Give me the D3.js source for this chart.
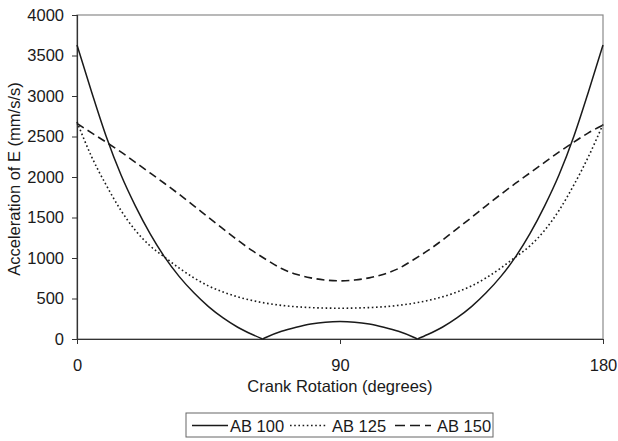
<!DOCTYPE html>
<html>
<head>
<meta charset="utf-8">
<script src="https://cdn.jsdelivr.net/npm/d3@7"></script>
<style>
  html, body { margin: 0; padding: 0; background: #fff; }
  svg { display: block; font-family: "Liberation Sans", Arial, Helvetica, sans-serif; }
</style>
</head>
<body>
<svg id="chart" width="618" height="441"></svg>
<script>
// Crank angle (degrees) for the AB 125 and AB 150 series
const angles = [0, 5, 10, 15, 20, 25, 30, 35, 40, 45, 50, 55, 60, 65, 70, 75, 80, 85, 90,
                95, 100, 105, 110, 115, 120, 125, 130, 135, 140, 145, 150, 155, 160, 165, 170, 175, 180];

// AB 100 is sampled at the same angles plus the two points where the acceleration vanishes
const angles100 = [0, 5, 10, 15, 20, 25, 30, 35, 40, 45, 50, 55, 60, 63.5, 65, 70, 75, 80, 85, 90,
                   95, 100, 105, 110, 115, 116.5, 120, 125, 130, 135, 140, 145, 150, 155, 160, 165, 170, 175, 180];
const ab100 = [3630, 3050, 2500, 2030, 1640, 1300, 1010, 770, 570, 400, 260, 145, 55, 0, 25, 95, 145, 185, 208, 215,
               208, 185, 145, 95, 25, 0, 55, 145, 260, 400, 570, 770, 1010, 1300, 1640, 2030, 2500, 3050, 3630];

const ab125 = [2680, 2250, 1900, 1590, 1340, 1150, 1010, 875, 755, 655, 580, 520, 475, 440, 415, 398, 388, 382, 380,
               382, 388, 398, 415, 440, 475, 520, 580, 655, 755, 875, 1010, 1150, 1340, 1590, 1900, 2250, 2650];

const ab150 = [2660, 2545, 2430, 2310, 2180, 2050, 1920, 1785, 1645, 1500, 1360, 1220, 1090, 975, 870, 800, 755, 728, 718,
               728, 755, 800, 870, 975, 1090, 1220, 1360, 1500, 1645, 1785, 1920, 2050, 2180, 2310, 2430, 2545, 2640];

const seriesNames = ["AB 100", "AB 125", "AB 150"];
const xTicks = [0, 90, 180];
const yTicks = [0, 500, 1000, 1500, 2000, 2500, 3000, 3500, 4000];

const svg = d3.select("#chart");
const plotL = 77, plotR = 603, plotT = 15, plotB = 339;
const ink = "#1a1a1a";

const x = d3.scaleLinear().domain([0, 180]).range([plotL, plotR]);
const y = d3.scaleLinear().domain([0, 4000]).range([plotB, plotT]);

// plot frame
svg.append("rect")
  .attr("x", plotL).attr("y", plotT)
  .attr("width", plotR - plotL).attr("height", plotB - plotT)
  .attr("fill", "none").attr("stroke", "#8a8a8a").attr("stroke-width", 1.2);

// axes
const yAxis = svg.append("g")
  .attr("transform", `translate(${plotL},0)`)
  .call(d3.axisLeft(y).tickValues(yTicks).tickSize(5).tickPadding(8).tickFormat(d3.format("d")));
const xAxis = svg.append("g")
  .attr("transform", `translate(0,${plotB})`)
  .call(d3.axisBottom(x).tickValues(xTicks).tickSize(5).tickPadding(15).tickSizeOuter(0));

[yAxis, xAxis].forEach(g => {
  g.select(".domain").attr("stroke", "#333").attr("stroke-width", 1.2);
  g.selectAll(".tick line").attr("stroke", "#333");
  g.selectAll(".tick text").attr("fill", ink).attr("font-size", 16.5)
    .attr("font-family", "Liberation Sans, Arial, sans-serif");
});

// axis titles
svg.append("text")
  .attr("x", (plotL + plotR) / 2).attr("y", 392)
  .attr("text-anchor", "middle").attr("font-size", 16.5).attr("fill", ink)
  .text("Crank Rotation (degrees)");
svg.append("text")
  .attr("transform", `translate(20,${(plotT + plotB) / 2 + 2}) rotate(-90)`)
  .attr("text-anchor", "middle").attr("font-size", 16.5).attr("fill", ink)
  .text("Acceleration of E (mm/s/s)");

const line = d3.line()
  .x(d => x(d[0])).y(d => y(d[1]))
  .curve(d3.curveMonotoneX);

const styles = [
  { dash: null, width: 1.5 },
  { dash: "1.6,2.6", width: 1.6 },
  { dash: "8,4.5", width: 1.6 }
];

// AB 100 is drawn piecewise between its zero crossings so the corners stay sharp
const pts100 = angles100.map((a, i) => [a, ab100[i]]);
const cuts = [0];
pts100.forEach((p, i) => { if (p[1] === 0) cuts.push(i); });
cuts.push(pts100.length - 1);
for (let k = 0; k < cuts.length - 1; k++) {
  svg.append("path")
    .datum(pts100.slice(cuts[k], cuts[k + 1] + 1))
    .attr("d", line)
    .attr("fill", "none").attr("stroke", ink).attr("stroke-width", styles[0].width);
}

[ab125, ab150].forEach((vals, j) => {
  const s = styles[j + 1];
  svg.append("path")
    .datum(angles.map((a, i) => [a, vals[i]]))
    .attr("d", line)
    .attr("fill", "none").attr("stroke", ink)
    .attr("stroke-width", s.width).attr("stroke-dasharray", s.dash);
});

// legend
const legend = svg.append("g");
legend.append("rect")
  .attr("x", 186).attr("y", 413).attr("width", 307).attr("height", 24)
  .attr("fill", "#fff").attr("stroke", "#666").attr("stroke-width", 1);
const legendX = [192, 290, 395];
seriesNames.forEach((name, j) => {
  const lx = legendX[j];
  legend.append("line")
    .attr("x1", lx).attr("x2", lx + 36).attr("y1", 425.5).attr("y2", 425.5)
    .attr("stroke", ink).attr("stroke-width", styles[j].width)
    .attr("stroke-dasharray", j === 2 ? "10,5" : styles[j].dash);
  legend.append("text")
    .attr("x", lx + (j === 0 ? 38 : 42)).attr("y", 431.5)
    .attr("font-size", 16.5).attr("fill", ink)
    .text(name);
});
</script>
</body>
</html>
